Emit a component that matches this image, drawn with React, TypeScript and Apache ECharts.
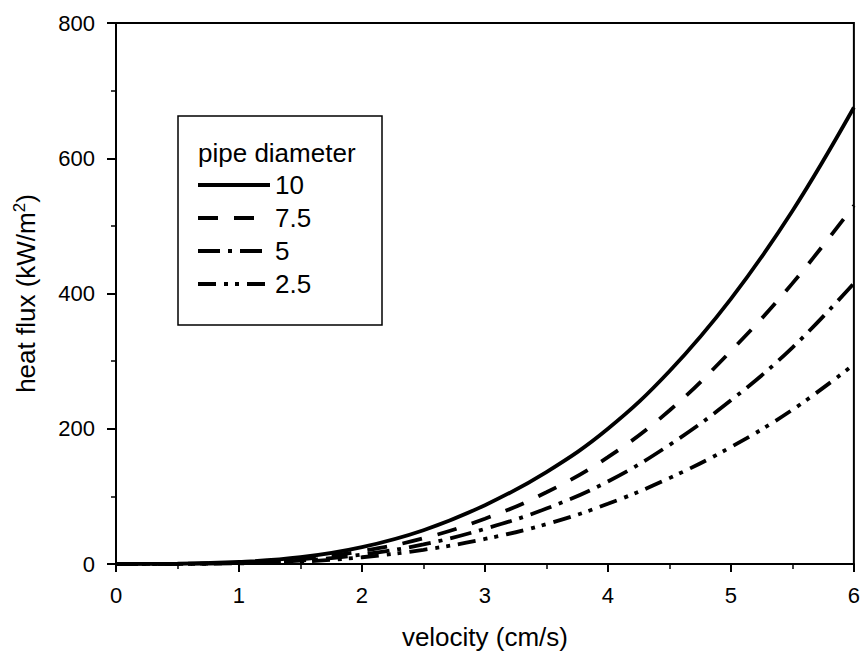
import React, { useEffect, useRef } from "react";
import * as echarts from "echarts";

const velocity = [0, 0.5, 1, 1.5, 2, 2.5, 3, 3.5, 4, 4.5, 5, 5.5, 6];
const d10 = [0, 0.4, 3, 10, 25, 50, 87, 136, 200, 285, 392, 522, 675];
const d75 = [0, 0.3, 2, 7, 19, 38, 67, 106, 158, 227, 315, 415, 530];
const d5 = [0, 0.2, 1.5, 5, 14, 29, 52, 82, 122, 176, 242, 320, 415];
const d25 = [0, 0.1, 1, 3.5, 10, 21, 37, 59, 89, 127, 173, 228, 295];
const seriesNames = ["10", "7.5", "5", "2.5"];
const xTicks = [0, 1, 2, 3, 4, 5, 6];
const yTicks = [0, 200, 400, 600, 800];

const FONT = "Liberation Sans, Arial, sans-serif";

export default function App() {
  const ref = useRef<HTMLDivElement>(null);
  useEffect(() => {
    if (!ref.current) return;
    const chart = echarts.init(ref.current, undefined, { renderer: "svg" });
    const dashes: any[] = ["solid", [20, 16], [22, 8, 4, 8], [18, 8, 4, 7, 4, 8]];
    const datas = [d10, d75, d5, d25];
    chart.setOption({
      animation: false,
      backgroundColor: "#fff",
      textStyle: { fontFamily: FONT, color: "#000" },
      grid: {
        left: 116, right: 9, top: 23, bottom: 95,
        show: true, borderColor: "#000", borderWidth: 2, backgroundColor: "transparent",
      },
      legend: {
        orient: "vertical",
        left: 196, top: 172,
        itemWidth: 72, itemHeight: 26, itemGap: 7,
        padding: 0,
        itemStyle: { opacity: 0, borderWidth: 0 },
        lineStyle: { width: 4, color: "#000" },
        textStyle: { fontFamily: FONT, fontSize: 26, color: "#000" },
        data: seriesNames,
      },
      graphic: [
        {
          type: "rect", shape: { x: 178, y: 116, width: 204, height: 209 },
          style: { fill: "none", stroke: "#000", lineWidth: 1.5 }, z: 10,
        },
        {
          type: "text", x: 198, y: 140,
          style: { text: "pipe diameter", font: `26px ${FONT}`, fill: "#000" }, z: 10,
        },
      ],
      xAxis: {
        type: "value", min: 0, max: 6, interval: 1,
        name: "velocity (cm/s)", nameLocation: "middle", nameGap: 60,
        nameTextStyle: { fontSize: 26, fontFamily: FONT, color: "#000" },
        axisLine: { lineStyle: { color: "#000", width: 2 } },
        axisTick: { inside: false, length: 8, lineStyle: { color: "#000", width: 2 } },
        minorTick: { show: true, splitNumber: 2, length: 5, lineStyle: { color: "#000", width: 1.5 } },
        axisLabel: {
          fontSize: 22, color: "#000", fontFamily: FONT, margin: 20,
          formatter: (v: number) => (xTicks.includes(v) ? String(v) : ""),
        },
        splitLine: { show: false },
      },
      yAxis: {
        type: "value", min: 0, max: 800, interval: 200,
        name: "heat flux (kW/m{sup|2})", nameLocation: "middle", nameGap: 76, nameRotate: 90,
        nameTextStyle: {
          fontSize: 26, fontFamily: FONT, color: "#000",
          rich: { sup: { fontSize: 17, fontFamily: FONT, color: "#000", padding: [0, 0, 12, 0], verticalAlign: "bottom" } },
        },
        axisLine: { lineStyle: { color: "#000", width: 2 } },
        axisTick: { inside: false, length: 9, lineStyle: { color: "#000", width: 2 } },
        minorTick: { show: true, splitNumber: 2, length: 5, lineStyle: { color: "#000", width: 1.5 } },
        axisLabel: {
          fontSize: 22, color: "#000", fontFamily: FONT, margin: 21,
          formatter: (v: number) => (yTicks.includes(v) ? String(v) : ""),
        },
        splitLine: { show: false },
      },
      series: seriesNames.map((n, i) => ({
        name: n,
        type: "line",
        smooth: 0.4,
        showSymbol: false,
        symbol: "none",
        data: velocity.map((x, j) => [x, datas[i][j]]),
        lineStyle: { color: "#000", width: 3.8, type: dashes[i], cap: "butt" },
        itemStyle: { color: "#000" },
      })),
    });
    return () => chart.dispose();
  }, []);
  return (
    <div
      ref={ref}
      style={{ position: "fixed", left: 0, top: 0, width: 863, height: 659, background: "#fff" }}
    />
  );
}
